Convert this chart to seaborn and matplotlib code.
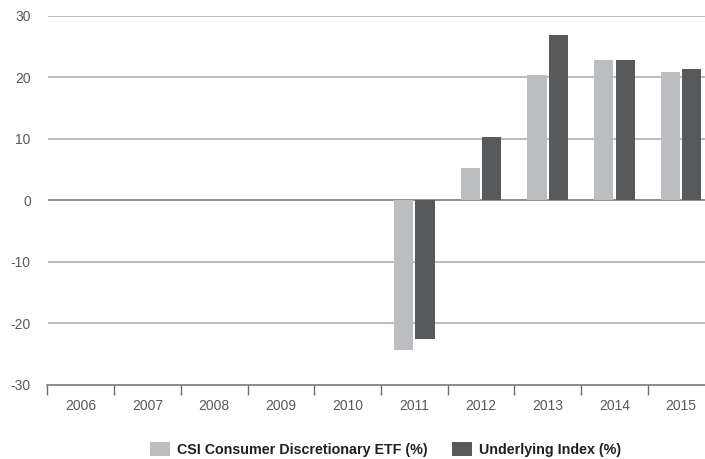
import matplotlib
matplotlib.use("Agg")
import matplotlib.pyplot as plt
import seaborn as sns
import pandas as pd
import numpy as np
from matplotlib.patches import Patch

years = ["2006", "2007", "2008", "2009", "2010", "2011", "2012", "2013", "2014", "2015"]
etf = [0, 0, 0, 0, 0, -24.3, 5.25, 20.4, 22.7, 20.85]
index = [0, 0, 0, 0, 0, -22.5, 10.2, 26.9, 22.7, 21.35]
series_names = ["CSI Consumer Discretionary ETF (%)", "Underlying Index (%)"]
colors = ["#bcbdc0", "#58595b"]

df = pd.DataFrame({
    "year": years * 2,
    "value": etf + index,
    "series": [series_names[0]] * len(years) + [series_names[1]] * len(years),
})

sns.set_theme(style="white")
plt.rcParams['font.family'] = ['Liberation Sans', 'DejaVu Sans']

fig = plt.figure(figsize=(7.05, 4.59), dpi=100)
left = 47.5 / 705
ax = fig.add_axes([left, 74 / 459, 1 - left, (385 - 15.5) / 459])

sns.barplot(data=df, x="year", y="value", hue="series", palette=colors,
            width=0.64, gap=0.1, ax=ax, legend=False, saturation=1,
            linewidth=0, edgecolor="none")

ax.set_yticks([-30, -20, -10, 0, 10, 20, 30])
ax.set_yticklabels(["-30", "-20", "-10", "0", "10", "20", "30"])
for y in [-20, -10, 10, 20, 30]:
    ax.axhline(y, color="#a7a8aa", lw=1.1, zorder=0)
ax.axhline(0, color="#6d6e70", lw=1.1, zorder=0.5)

for s in ["top", "right", "left"]:
    ax.spines[s].set_visible(False)
ax.spines["bottom"].set_color("#6d6e70")
ax.spines["bottom"].set_linewidth(1.1)

ax.set_xlabel("")
ax.set_ylabel("")
ax.tick_params(axis="y", length=0, pad=12, labelsize=10, labelcolor="#58595b")
ax.tick_params(axis="x", which="major", length=0, pad=10, labelsize=10, labelcolor="#58595b")
ax.set_xticks(np.arange(-0.5, 9.0, 1.0), minor=True)
ax.tick_params(axis="x", which="minor", length=7, width=1, color="#6d6e70", direction="out", bottom=True)

ax.set_ylim(-30, 30)
ax.set_xlim(-0.5, -0.5 + 657.5 / 66.7)

handles = [Patch(facecolor=c, edgecolor="none") for c in colors]
fig.legend(handles, series_names, loc="center", bbox_to_anchor=(0.547, 9.5 / 459),
           ncol=2, frameon=False, handlelength=1.4, handleheight=1.05, columnspacing=1.75,
           handletextpad=0.47, prop={"weight": "bold", "size": 10.3}, labelcolor="#231f20",
           borderpad=0, borderaxespad=0)

fig.savefig("out.png", dpi=100)
